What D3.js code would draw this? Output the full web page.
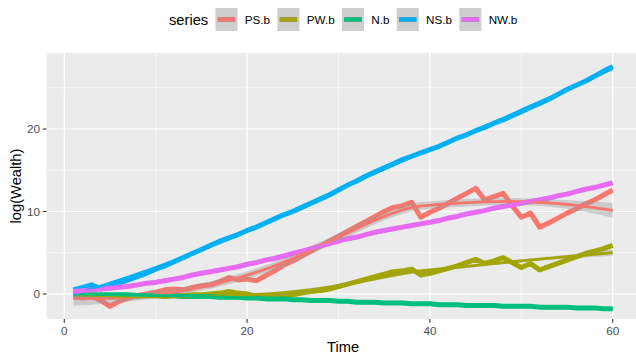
<!DOCTYPE html>
<html><head><meta charset="utf-8">
<script src="https://cdn.jsdelivr.net/npm/d3@7"></script>
<style>
body{margin:0;background:#fff}
svg{display:block}
text{font-family:"Liberation Sans",Arial,Helvetica,sans-serif}
</style>
</head><body>
<svg id="chart" width="636" height="354"></svg>
<script>
// Series definitions
const seriesNames = ["PS.b", "PW.b", "N.b", "NS.b", "NW.b"];
const seriesColors = ["#F8766D", "#A3A500", "#00BF7D", "#00B0F6", "#E76BF3"];
const time = d3.range(1, 61);

// log(Wealth) per time step
const psB = [-0.3, -0.5, -0.3, -0.8, -1.5, -0.9, -0.5, -0.2, 0.0, 0.2,
              0.5, 0.6, 0.5, 0.8, 1.0, 1.1, 1.5, 2.0, 1.7, 1.8,
              1.6, 2.2, 2.8, 3.5, 4.0, 4.6, 5.2, 5.8, 6.4, 7.0,
              7.6, 8.2, 8.8, 9.4, 10.0, 10.5, 10.7, 11.1, 9.3, 9.9,
              10.4, 11.0, 11.6, 12.2, 12.8, 11.4, 11.8, 12.2, 10.7, 9.3,
              9.8, 8.1, 8.6, 9.2, 9.8, 10.3, 10.9, 11.4, 12.0, 12.6];
const pwB = [-0.3, -0.3, -0.2, -0.3, -0.2, -0.3, -0.2, -0.3, -0.2, -0.2,
             -0.3, -0.2, -0.2, -0.1, -0.1, 0.0, 0.1, 0.3, 0.1, 0.0,
             -0.3, -0.4, -0.3, -0.2, -0.1, 0.1, 0.3, 0.4, 0.6, 0.9,
              1.2, 1.5, 1.8, 2.1, 2.4, 2.7, 2.8, 3.0, 2.3, 2.5,
              2.8, 3.1, 3.4, 3.8, 4.2, 3.7, 4.0, 4.4, 3.8, 3.2,
              3.7, 2.9, 3.3, 3.7, 4.1, 4.5, 4.9, 5.2, 5.5, 5.9];
const nB = [0.0, 0.0, -0.1, -0.1, -0.1, -0.1, -0.1, -0.2, -0.2, -0.2,
            -0.2, -0.2, -0.3, -0.3, -0.3, -0.3, -0.4, -0.4, -0.4, -0.5,
            -0.5, -0.6, -0.6, -0.6, -0.7, -0.7, -0.8, -0.8, -0.8, -0.9,
            -0.9, -1.0, -1.0, -1.0, -1.1, -1.1, -1.1, -1.2, -1.2, -1.2,
            -1.3, -1.3, -1.3, -1.4, -1.4, -1.4, -1.4, -1.5, -1.5, -1.5,
            -1.5, -1.6, -1.6, -1.6, -1.6, -1.7, -1.7, -1.7, -1.8, -1.8];
const nsB = [0.5, 0.8, 1.1, 0.6, 0.9, 1.3, 1.7, 2.1, 2.5, 3.0,
             3.4, 3.9, 4.4, 4.9, 5.4, 5.9, 6.4, 6.8, 7.2, 7.7,
             8.1, 8.6, 9.1, 9.6, 10.0, 10.5, 11.0, 11.5, 12.0, 12.6,
             13.2, 13.7, 14.3, 14.8, 15.3, 15.8, 16.3, 16.7, 17.1, 17.5,
             17.9, 18.4, 18.9, 19.3, 19.8, 20.2, 20.7, 21.1, 21.6, 22.1,
             22.6, 23.1, 23.6, 24.2, 24.8, 25.3, 25.8, 26.4, 27.0, 27.6];
const nwB = [0.3, 0.4, 0.5, 0.6, 0.7, 0.8, 0.9, 1.1, 1.3, 1.4,
             1.6, 1.8, 2.0, 2.3, 2.5, 2.7, 2.9, 3.1, 3.3, 3.6,
             3.8, 4.1, 4.3, 4.6, 4.9, 5.2, 5.5, 5.8, 6.1, 6.4,
             6.7, 6.9, 7.2, 7.5, 7.7, 7.9, 8.1, 8.3, 8.5, 8.7,
             8.9, 9.2, 9.4, 9.7, 9.9, 10.1, 10.4, 10.6, 10.8, 11.0,
             11.2, 11.4, 11.6, 11.9, 12.1, 12.4, 12.7, 12.9, 13.2, 13.5];

const xTicks = [0, 20, 40, 60];
const xMinor = [10, 30, 50];
const yTicks = [0, 10, 20];
const yMinor = [5, 15, 25];

const seriesValues = [psB, pwB, nB, nsB, nwB];

// ---- local quadratic regression (loess, tricube weights) ----
function inv3(m) {
  const [a, b, c] = m[0], [d, e, f] = m[1], [g, h, i] = m[2];
  const A = e * i - f * h, B = -(d * i - f * g), C = d * h - e * g;
  const det = a * A + b * B + c * C;
  return [
    [A / det, -(b * i - c * h) / det, (b * f - c * e) / det],
    [B / det, (a * i - c * g) / det, -(a * f - c * d) / det],
    [C / det, -(a * h - b * g) / det, (a * e - b * d) / det]
  ];
}
function smootherRow(xs, x0, span) {
  const n = xs.length, q = Math.floor(span * n);
  const d = xs.map(x => Math.abs(x - x0));
  const dq = d.slice().sort((p, r) => p - r)[q - 1] * 1.0001;
  const w = d.map(v => v < dq ? Math.pow(1 - Math.pow(v / dq, 3), 3) : 0);
  const M = [[0, 0, 0], [0, 0, 0], [0, 0, 0]];
  xs.forEach((x, k) => {
    const u = (x - x0) / 10, bs = [1, u, u * u];
    for (let r = 0; r < 3; r++) for (let s = 0; s < 3; s++) M[r][s] += w[k] * bs[r] * bs[s];
  });
  const iv = inv3(M);
  return xs.map((x, k) => {
    const u = (x - x0) / 10;
    return w[k] * (iv[0][0] + iv[0][1] * u + iv[0][2] * u * u);
  });
}
function loessBand(xs, ys, grid, span) {
  const n = xs.length;
  const L = xs.map(x0 => smootherRow(xs, x0, span));
  // residual scale from I - L
  let oneDelta = 0, rss = 0;
  for (let r = 0; r < n; r++) {
    let fit = 0;
    for (let k = 0; k < n; k++) fit += L[r][k] * ys[k];
    rss += (ys[r] - fit) ** 2;
  }
  for (let r = 0; r < n; r++) for (let k = 0; k < n; k++) {
    let s = 0;
    for (let m = 0; m < n; m++) s += ((m === r ? 1 : 0) - L[m][r]) * ((m === k ? 1 : 0) - L[m][k]);
    if (r === k) oneDelta += s;
  }
  const sigma = Math.sqrt(rss / oneDelta);
  const tq = 2.0;
  return grid.map(x0 => {
    const l = smootherRow(xs, x0, span);
    const fit = d3.sum(l, (v, k) => v * ys[k]);
    const se = sigma * Math.sqrt(d3.sum(l, v => v * v));
    return { x: x0, y: fit, lo: fit - tq * se, hi: fit + tq * se };
  });
}

// ---- layout ----
const svg = d3.select("#chart");
const panel = { left: 46.5, right: 639.7, top: 53, bottom: 319 };
const x = d3.scaleLinear().domain([-1.95, 62.95]).range([panel.left, panel.right]);
const y = d3.scaleLinear().domain([-3.04, 29.22]).range([panel.bottom, panel.top]);

svg.append("defs").append("clipPath").attr("id", "panelClip")
  .append("rect").attr("x", panel.left).attr("y", panel.top)
  .attr("width", panel.right - panel.left).attr("height", panel.bottom - panel.top);

svg.append("rect").attr("x", panel.left).attr("y", panel.top)
  .attr("width", panel.right - panel.left).attr("height", panel.bottom - panel.top)
  .attr("fill", "#EBEBEB");

const grid = svg.append("g");
grid.selectAll(".xmin").data(xMinor).enter().append("line")
  .attr("x1", d => x(d)).attr("x2", d => x(d)).attr("y1", panel.top).attr("y2", panel.bottom)
  .attr("stroke", "#fff").attr("stroke-width", 0.6);
grid.selectAll(".ymin").data(yMinor).enter().append("line")
  .attr("y1", d => y(d)).attr("y2", d => y(d)).attr("x1", panel.left).attr("x2", panel.right)
  .attr("stroke", "#fff").attr("stroke-width", 0.6);
grid.selectAll(".xmaj").data(xTicks).enter().append("line")
  .attr("x1", d => x(d)).attr("x2", d => x(d)).attr("y1", panel.top).attr("y2", panel.bottom)
  .attr("stroke", "#fff").attr("stroke-width", 1.2);
grid.selectAll(".ymaj").data(yTicks).enter().append("line")
  .attr("y1", d => y(d)).attr("y2", d => y(d)).attr("x1", panel.left).attr("x2", panel.right)
  .attr("stroke", "#fff").attr("stroke-width", 1.2);

const plot = svg.append("g").attr("clip-path", "url(#panelClip)");
const line = d3.line().x(d => x(d[0])).y(d => y(d[1]));

// raw series lines
seriesValues.forEach((vals, i) => {
  plot.append("path")
    .attr("d", line(time.map((t, k) => [t, vals[k]])))
    .attr("fill", "none").attr("stroke", seriesColors[i])
    .attr("stroke-width", 5).attr("stroke-linejoin", "round");
});

// smoothed fits with confidence bands
const evalGrid = d3.range(80).map(k => 1 + 59 * k / 79);
const area = d3.area().x(d => x(d.x)).y0(d => y(d.lo)).y1(d => y(d.hi));
const fitLine = d3.line().x(d => x(d.x)).y(d => y(d.y));
seriesValues.forEach((vals, i) => {
  const band = loessBand(time, vals, evalGrid, 0.75);
  plot.append("path").attr("d", area(band)).attr("fill", "#999999").attr("fill-opacity", 0.4);
  plot.append("path").attr("d", fitLine(band)).attr("fill", "none")
    .attr("stroke", seriesColors[i]).attr("stroke-width", 2.8);
});

// ---- axes ----
const axisCol = "#4D4D4D";
const xAxis = svg.append("g");
xTicks.forEach(t => {
  xAxis.append("line").attr("x1", x(t)).attr("x2", x(t)).attr("y1", panel.bottom).attr("y2", panel.bottom + 3.7)
    .attr("stroke", "#333").attr("stroke-width", 1.1);
  xAxis.append("text").attr("x", x(t)).attr("y", 334.5).attr("text-anchor", "middle")
    .attr("font-size", 11.7).attr("fill", axisCol).text(t);
});
const yAxis = svg.append("g");
yTicks.forEach(t => {
  yAxis.append("line").attr("x1", panel.left - 3.7).attr("x2", panel.left).attr("y1", y(t)).attr("y2", y(t))
    .attr("stroke", "#333").attr("stroke-width", 1.1);
  yAxis.append("text").attr("x", panel.left - 6.6).attr("y", y(t)).attr("dy", "0.35em")
    .attr("text-anchor", "end").attr("font-size", 11.7).attr("fill", axisCol).text(t);
});
svg.append("text").attr("x", (panel.left + panel.right) / 2).attr("y", 351.5)
  .attr("text-anchor", "middle").attr("font-size", 14.7).attr("fill", "#000").text("Time");
svg.append("text").attr("transform", `translate(20.5,${(panel.top + panel.bottom) / 2}) rotate(-90)`)
  .attr("text-anchor", "middle").attr("font-size", 14.7).attr("fill", "#000").text("log(Wealth)");

// ---- legend ----
const leg = svg.append("g");
const keyW = 22, keyH = 23, keyTop = 8, gap = 7.3;
const title = leg.append("text").attr("y", keyTop + keyH / 2).attr("dy", "0.35em")
  .attr("font-size", 14.7).attr("fill", "#000").text("series");
let cursor = title.node().getComputedTextLength() + gap;
const items = [];
seriesNames.forEach((name, i) => {
  const g = leg.append("g");
  g.append("rect").attr("x", cursor).attr("y", keyTop).attr("width", keyW).attr("height", keyH).attr("fill", "#F2F2F2");
  g.append("line").attr("x1", cursor + keyW * 0.1).attr("x2", cursor + keyW * 0.9)
    .attr("y1", keyTop + keyH / 2).attr("y2", keyTop + keyH / 2)
    .attr("stroke", seriesColors[i]).attr("stroke-width", 5);
  g.append("rect").attr("x", cursor).attr("y", keyTop).attr("width", keyW).attr("height", keyH)
    .attr("fill", "#999999").attr("fill-opacity", 0.4);
  g.append("line").attr("x1", cursor + keyW * 0.1).attr("x2", cursor + keyW * 0.9)
    .attr("y1", keyTop + keyH / 2).attr("y2", keyTop + keyH / 2)
    .attr("stroke", seriesColors[i]).attr("stroke-width", 2.8);
  const lbl = g.append("text").attr("x", cursor + keyW + gap).attr("y", keyTop + keyH / 2).attr("dy", "0.35em")
    .attr("font-size", 11.7).attr("fill", "#000").text(name);
  cursor += keyW + gap + lbl.node().getComputedTextLength() + gap;
});
const legWidth = cursor - gap;
leg.attr("transform", `translate(${(panel.left + panel.right) / 2 - legWidth / 2},0)`);
</script>
</body></html>
